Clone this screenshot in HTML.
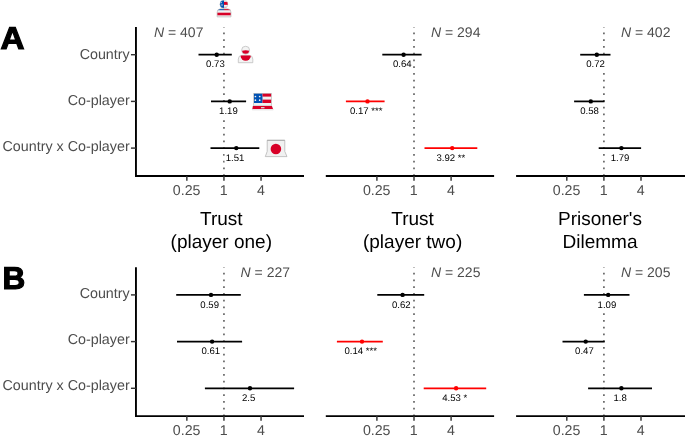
<!DOCTYPE html><html><head><meta charset="utf-8"><title>Figure</title><style>html,body{margin:0;padding:0;background:#fff}svg{display:block}text{font-family:"Liberation Sans",Arial,sans-serif;text-rendering:geometricPrecision}</style></head><body>
<svg width="685" height="436" viewBox="0 0 685 436">
<rect width="685" height="436" fill="#fff"/>
<line x1="223.95" y1="27.0" x2="223.95" y2="176.04999999999998" stroke="#666" stroke-width="1.7" stroke-dasharray="1.7 5.05" stroke-dashoffset="1.2"/>
<line x1="135.0" y1="176.04999999999998" x2="304" y2="176.04999999999998" stroke="#000" stroke-width="1.9"/>
<line x1="135.95" y1="27.0" x2="135.95" y2="176.04999999999998" stroke="#000" stroke-width="1.9"/>
<line x1="130.95" y1="54.70" x2="135.95" y2="54.70" stroke="#333" stroke-width="1.45"/>
<text x="129.7" y="59.1" font-size="14.3" fill="#4d4d4d" text-anchor="end">Country</text>
<line x1="130.95" y1="101.40" x2="135.95" y2="101.40" stroke="#333" stroke-width="1.45"/>
<text x="129.7" y="105.1" font-size="14.3" fill="#4d4d4d" text-anchor="end">Co-player</text>
<line x1="130.95" y1="148.10" x2="135.95" y2="148.10" stroke="#333" stroke-width="1.45"/>
<text x="129.7" y="151.0" font-size="14.3" fill="#4d4d4d" text-anchor="end">Country x Co-player</text>
<line x1="186.85" y1="176.04999999999998" x2="186.85" y2="180.64999999999998" stroke="#333" stroke-width="1.45"/>
<text x="186.65" y="194.70" font-size="14.2" fill="#4d4d4d" text-anchor="middle">0.25</text>
<line x1="223.95" y1="176.04999999999998" x2="223.95" y2="180.64999999999998" stroke="#333" stroke-width="1.45"/>
<text x="223.75" y="194.70" font-size="14.2" fill="#4d4d4d" text-anchor="middle">1</text>
<line x1="261.05" y1="176.04999999999998" x2="261.05" y2="180.64999999999998" stroke="#333" stroke-width="1.45"/>
<text x="260.85" y="194.70" font-size="14.2" fill="#4d4d4d" text-anchor="middle">4</text>
<text x="154.0" y="36.60" font-size="14" fill="#4d4d4d"><tspan font-style="italic">N</tspan> = 407</text>
<line x1="198.5" y1="54.70" x2="231.8" y2="54.70" stroke="#000" stroke-width="1.75"/>
<circle cx="216.7" cy="54.70" r="2.2" fill="#000"/>
<rect x="205.06" y="59.00" width="20.68" height="10.2" fill="#fff"/>
<text x="215.40" y="67.30" font-size="9.6" fill="#000" text-anchor="middle">0.73</text>
<line x1="211" y1="101.40" x2="246.1" y2="101.40" stroke="#000" stroke-width="1.75"/>
<circle cx="229.7" cy="101.40" r="2.2" fill="#000"/>
<rect x="218.06" y="105.70" width="20.68" height="10.2" fill="#fff"/>
<text x="228.40" y="114.00" font-size="9.6" fill="#000" text-anchor="middle">1.19</text>
<line x1="210.5" y1="148.10" x2="259.3" y2="148.10" stroke="#000" stroke-width="1.75"/>
<circle cx="236.3" cy="148.10" r="2.2" fill="#000"/>
<rect x="224.66" y="152.40" width="20.68" height="10.2" fill="#fff"/>
<text x="235.00" y="160.70" font-size="9.6" fill="#000" text-anchor="middle">1.51</text>
<line x1="414.0" y1="27.0" x2="414.0" y2="176.04999999999998" stroke="#666" stroke-width="1.7" stroke-dasharray="1.7 5.05" stroke-dashoffset="1.2"/>
<line x1="325.8" y1="176.04999999999998" x2="494.1" y2="176.04999999999998" stroke="#000" stroke-width="1.9"/>
<line x1="376.90" y1="176.04999999999998" x2="376.90" y2="180.64999999999998" stroke="#333" stroke-width="1.45"/>
<text x="376.70" y="194.70" font-size="14.2" fill="#4d4d4d" text-anchor="middle">0.25</text>
<line x1="414.00" y1="176.04999999999998" x2="414.00" y2="180.64999999999998" stroke="#333" stroke-width="1.45"/>
<text x="413.80" y="194.70" font-size="14.2" fill="#4d4d4d" text-anchor="middle">1</text>
<line x1="451.10" y1="176.04999999999998" x2="451.10" y2="180.64999999999998" stroke="#333" stroke-width="1.45"/>
<text x="450.90" y="194.70" font-size="14.2" fill="#4d4d4d" text-anchor="middle">4</text>
<text x="431.0" y="36.60" font-size="14" fill="#4d4d4d"><tspan font-style="italic">N</tspan> = 294</text>
<line x1="382.3" y1="54.70" x2="421.6" y2="54.70" stroke="#000" stroke-width="1.75"/>
<circle cx="403.6" cy="54.70" r="2.2" fill="#000"/>
<rect x="391.96" y="59.00" width="20.68" height="10.2" fill="#fff"/>
<text x="402.30" y="67.30" font-size="9.6" fill="#000" text-anchor="middle">0.64</text>
<line x1="345.9" y1="101.40" x2="384.6" y2="101.40" stroke="#f00" stroke-width="1.75"/>
<circle cx="367.5" cy="101.40" r="2.2" fill="#f00"/>
<rect x="348.92" y="105.70" width="34.56" height="10.2" fill="#fff"/>
<text x="366.20" y="114.00" font-size="9.6" fill="#000" text-anchor="middle">0.17 ***</text>
<line x1="424.5" y1="148.10" x2="477.3" y2="148.10" stroke="#f00" stroke-width="1.75"/>
<circle cx="452.2" cy="148.10" r="2.2" fill="#f00"/>
<rect x="435.49" y="152.40" width="30.82" height="10.2" fill="#fff"/>
<text x="450.90" y="160.70" font-size="9.6" fill="#000" text-anchor="middle">3.92 **</text>
<line x1="603.9" y1="27.0" x2="603.9" y2="176.04999999999998" stroke="#666" stroke-width="1.7" stroke-dasharray="1.7 5.05" stroke-dashoffset="1.2"/>
<line x1="516.1" y1="176.04999999999998" x2="686" y2="176.04999999999998" stroke="#000" stroke-width="1.9"/>
<line x1="566.80" y1="176.04999999999998" x2="566.80" y2="180.64999999999998" stroke="#333" stroke-width="1.45"/>
<text x="566.60" y="194.70" font-size="14.2" fill="#4d4d4d" text-anchor="middle">0.25</text>
<line x1="603.90" y1="176.04999999999998" x2="603.90" y2="180.64999999999998" stroke="#333" stroke-width="1.45"/>
<text x="603.70" y="194.70" font-size="14.2" fill="#4d4d4d" text-anchor="middle">1</text>
<line x1="641.00" y1="176.04999999999998" x2="641.00" y2="180.64999999999998" stroke="#333" stroke-width="1.45"/>
<text x="640.80" y="194.70" font-size="14.2" fill="#4d4d4d" text-anchor="middle">4</text>
<text x="621.0" y="36.60" font-size="14" fill="#4d4d4d"><tspan font-style="italic">N</tspan> = 402</text>
<line x1="580.2" y1="54.70" x2="610.5" y2="54.70" stroke="#000" stroke-width="1.75"/>
<circle cx="596.8" cy="54.70" r="2.2" fill="#000"/>
<rect x="585.16" y="59.00" width="20.68" height="10.2" fill="#fff"/>
<text x="595.50" y="67.30" font-size="9.6" fill="#000" text-anchor="middle">0.72</text>
<line x1="574.1" y1="101.40" x2="604.5" y2="101.40" stroke="#000" stroke-width="1.75"/>
<circle cx="590.8" cy="101.40" r="2.2" fill="#000"/>
<rect x="579.16" y="105.70" width="20.68" height="10.2" fill="#fff"/>
<text x="589.50" y="114.00" font-size="9.6" fill="#000" text-anchor="middle">0.58</text>
<line x1="598.7" y1="148.10" x2="641.1" y2="148.10" stroke="#000" stroke-width="1.75"/>
<circle cx="621.4" cy="148.10" r="2.2" fill="#000"/>
<rect x="609.76" y="152.40" width="20.68" height="10.2" fill="#fff"/>
<text x="620.10" y="160.70" font-size="9.6" fill="#000" text-anchor="middle">1.79</text>
<line x1="223.95" y1="267.2" x2="223.95" y2="416.1" stroke="#666" stroke-width="1.7" stroke-dasharray="1.7 5.05" stroke-dashoffset="1.2"/>
<line x1="135.0" y1="416.1" x2="304" y2="416.1" stroke="#000" stroke-width="1.9"/>
<line x1="135.95" y1="267.2" x2="135.95" y2="416.1" stroke="#000" stroke-width="1.9"/>
<line x1="130.95" y1="294.90" x2="135.95" y2="294.90" stroke="#333" stroke-width="1.45"/>
<text x="129.7" y="298.1" font-size="14.3" fill="#4d4d4d" text-anchor="end">Country</text>
<line x1="130.95" y1="341.60" x2="135.95" y2="341.60" stroke="#333" stroke-width="1.45"/>
<text x="129.7" y="344.0" font-size="14.3" fill="#4d4d4d" text-anchor="end">Co-player</text>
<line x1="130.95" y1="388.30" x2="135.95" y2="388.30" stroke="#333" stroke-width="1.45"/>
<text x="129.7" y="389.9" font-size="14.3" fill="#4d4d4d" text-anchor="end">Country x Co-player</text>
<line x1="186.85" y1="416.1" x2="186.85" y2="420.70000000000005" stroke="#333" stroke-width="1.45"/>
<text x="186.65" y="434.75" font-size="14.2" fill="#4d4d4d" text-anchor="middle">0.25</text>
<line x1="223.95" y1="416.1" x2="223.95" y2="420.70000000000005" stroke="#333" stroke-width="1.45"/>
<text x="223.75" y="434.75" font-size="14.2" fill="#4d4d4d" text-anchor="middle">1</text>
<line x1="261.05" y1="416.1" x2="261.05" y2="420.70000000000005" stroke="#333" stroke-width="1.45"/>
<text x="260.85" y="434.75" font-size="14.2" fill="#4d4d4d" text-anchor="middle">4</text>
<text x="240.6" y="276.80" font-size="14" fill="#4d4d4d"><tspan font-style="italic">N</tspan> = 227</text>
<line x1="176.2" y1="294.90" x2="240.8" y2="294.90" stroke="#000" stroke-width="1.75"/>
<circle cx="211" cy="294.90" r="2.2" fill="#000"/>
<rect x="199.36" y="299.20" width="20.68" height="10.2" fill="#fff"/>
<text x="209.70" y="307.50" font-size="9.6" fill="#000" text-anchor="middle">0.59</text>
<line x1="177" y1="341.60" x2="242.1" y2="341.60" stroke="#000" stroke-width="1.75"/>
<circle cx="212.1" cy="341.60" r="2.2" fill="#000"/>
<rect x="200.46" y="345.90" width="20.68" height="10.2" fill="#fff"/>
<text x="210.80" y="354.20" font-size="9.6" fill="#000" text-anchor="middle">0.61</text>
<line x1="204.9" y1="388.30" x2="294.1" y2="388.30" stroke="#000" stroke-width="1.75"/>
<circle cx="250" cy="388.30" r="2.2" fill="#000"/>
<rect x="241.03" y="392.60" width="15.34" height="10.2" fill="#fff"/>
<text x="248.70" y="400.90" font-size="9.6" fill="#000" text-anchor="middle">2.5</text>
<line x1="414.0" y1="267.2" x2="414.0" y2="416.1" stroke="#666" stroke-width="1.7" stroke-dasharray="1.7 5.05" stroke-dashoffset="1.2"/>
<line x1="325.8" y1="416.1" x2="494.1" y2="416.1" stroke="#000" stroke-width="1.9"/>
<line x1="376.90" y1="416.1" x2="376.90" y2="420.70000000000005" stroke="#333" stroke-width="1.45"/>
<text x="376.70" y="434.75" font-size="14.2" fill="#4d4d4d" text-anchor="middle">0.25</text>
<line x1="414.00" y1="416.1" x2="414.00" y2="420.70000000000005" stroke="#333" stroke-width="1.45"/>
<text x="413.80" y="434.75" font-size="14.2" fill="#4d4d4d" text-anchor="middle">1</text>
<line x1="451.10" y1="416.1" x2="451.10" y2="420.70000000000005" stroke="#333" stroke-width="1.45"/>
<text x="450.90" y="434.75" font-size="14.2" fill="#4d4d4d" text-anchor="middle">4</text>
<text x="431.0" y="276.80" font-size="14" fill="#4d4d4d"><tspan font-style="italic">N</tspan> = 225</text>
<line x1="377.3" y1="294.90" x2="424.2" y2="294.90" stroke="#000" stroke-width="1.75"/>
<circle cx="402.6" cy="294.90" r="2.2" fill="#000"/>
<rect x="390.96" y="299.20" width="20.68" height="10.2" fill="#fff"/>
<text x="401.30" y="307.50" font-size="9.6" fill="#000" text-anchor="middle">0.62</text>
<line x1="336.9" y1="341.60" x2="382.8" y2="341.60" stroke="#f00" stroke-width="1.75"/>
<circle cx="362" cy="341.60" r="2.2" fill="#f00"/>
<rect x="343.42" y="345.90" width="34.56" height="10.2" fill="#fff"/>
<text x="360.70" y="354.20" font-size="9.6" fill="#000" text-anchor="middle">0.14 ***</text>
<line x1="423.7" y1="388.30" x2="486.2" y2="388.30" stroke="#f00" stroke-width="1.75"/>
<circle cx="456.1" cy="388.30" r="2.2" fill="#f00"/>
<rect x="441.26" y="392.60" width="27.09" height="10.2" fill="#fff"/>
<text x="454.80" y="400.90" font-size="9.6" fill="#000" text-anchor="middle">4.53 *</text>
<line x1="603.9" y1="267.2" x2="603.9" y2="416.1" stroke="#666" stroke-width="1.7" stroke-dasharray="1.7 5.05" stroke-dashoffset="1.2"/>
<line x1="516.1" y1="416.1" x2="686" y2="416.1" stroke="#000" stroke-width="1.9"/>
<line x1="566.80" y1="416.1" x2="566.80" y2="420.70000000000005" stroke="#333" stroke-width="1.45"/>
<text x="566.60" y="434.75" font-size="14.2" fill="#4d4d4d" text-anchor="middle">0.25</text>
<line x1="603.90" y1="416.1" x2="603.90" y2="420.70000000000005" stroke="#333" stroke-width="1.45"/>
<text x="603.70" y="434.75" font-size="14.2" fill="#4d4d4d" text-anchor="middle">1</text>
<line x1="641.00" y1="416.1" x2="641.00" y2="420.70000000000005" stroke="#333" stroke-width="1.45"/>
<text x="640.80" y="434.75" font-size="14.2" fill="#4d4d4d" text-anchor="middle">4</text>
<text x="621.0" y="276.80" font-size="14" fill="#4d4d4d"><tspan font-style="italic">N</tspan> = 205</text>
<line x1="583.9" y1="294.90" x2="629.5" y2="294.90" stroke="#000" stroke-width="1.75"/>
<circle cx="608.2" cy="294.90" r="2.2" fill="#000"/>
<rect x="596.56" y="299.20" width="20.68" height="10.2" fill="#fff"/>
<text x="606.90" y="307.50" font-size="9.6" fill="#000" text-anchor="middle">1.09</text>
<line x1="562.5" y1="341.60" x2="604.7" y2="341.60" stroke="#000" stroke-width="1.75"/>
<circle cx="585.7" cy="341.60" r="2.2" fill="#000"/>
<rect x="574.06" y="345.90" width="20.68" height="10.2" fill="#fff"/>
<text x="584.40" y="354.20" font-size="9.6" fill="#000" text-anchor="middle">0.47</text>
<line x1="588.1" y1="388.30" x2="652" y2="388.30" stroke="#000" stroke-width="1.75"/>
<circle cx="621.4" cy="388.30" r="2.2" fill="#000"/>
<rect x="612.43" y="392.60" width="15.34" height="10.2" fill="#fff"/>
<text x="620.10" y="400.90" font-size="9.6" fill="#000" text-anchor="middle">1.8</text>
<text x="221.3" y="225.2" font-size="19" fill="#000" text-anchor="middle">Trust</text>
<text x="221.3" y="247.9" font-size="19" fill="#000" text-anchor="middle">(player one)</text>
<text x="412.6" y="225.2" font-size="19" fill="#000" text-anchor="middle">Trust</text>
<text x="412.6" y="247.9" font-size="19" fill="#000" text-anchor="middle">(player two)</text>
<text x="600.0" y="225.2" font-size="19" fill="#000" text-anchor="middle">Prisoner's</text>
<text x="600.0" y="247.9" font-size="19" fill="#000" text-anchor="middle">Dilemma</text>
<text x="0" y="49.1" transform="translate(0.55 0) scale(1.053 1)" font-size="31.5" font-weight="bold" fill="#000" stroke="#000" stroke-width="1.2" stroke-linejoin="miter">A</text>
<text x="2.4" y="289.3" font-size="31.5" font-weight="bold" fill="#000" stroke="#000" stroke-width="1.2" stroke-linejoin="miter">B</text>
<g>
<defs><clipPath id="ush"><circle cx="223.9" cy="4.2" r="4"/></clipPath><clipPath id="usb"><path d="M217.1 16.9V12.3a3.5 3.5 0 0 1 3.5-3.5h6.9a3.5 3.5 0 0 1 3.5 3.5V16.9z"/></clipPath></defs>
<g clip-path="url(#ush)"><rect x="219" y="0" width="10" height="9" fill="#f0f0f0"/><rect x="219" y="0" width="5" height="9" fill="#0052b4"/><rect x="224" y="1.85" width="5" height="3.0" fill="#d80027"/><rect x="224" y="6.6" width="5" height="2" fill="#f3b6c0"/><circle cx="221.2" cy="2.6" r="0.55" fill="#f0f0f0"/><circle cx="222" cy="5" r="0.65" fill="#f0f0f0"/></g>
<circle cx="223.9" cy="4.2" r="4" fill="none" stroke="#bcbcbc" stroke-width="0.4"/>
<g clip-path="url(#usb)"><rect x="217" y="8.8" width="14" height="8.2" fill="#f0f0f0"/><rect x="217" y="8.8" width="7" height="1.4" fill="#0052b4"/><rect x="224" y="8.8" width="7" height="1.4" fill="#d80027"/><rect x="217" y="12.7" width="14" height="2.6" fill="#d80027"/></g>
<path d="M217.1 16.9V12.3a3.5 3.5 0 0 1 3.5-3.5h6.9a3.5 3.5 0 0 1 3.5 3.5V16.9z" fill="none" stroke="#bcbcbc" stroke-width="0.7"/>
</g>
<g>
<defs><clipPath id="jph"><circle cx="245.6" cy="50.25" r="3.5"/></clipPath><clipPath id="jpb"><path d="M238.3 62.7V59.1a3.7 3.7 0 0 1 3.7-3.7h7.1a3.7 3.7 0 0 1 3.7 3.7V62.7z"/></clipPath></defs>
<circle cx="245.6" cy="50.25" r="4.0" fill="#f4f4f4" stroke="#bcbcbc" stroke-width="0.75"/>
<g clip-path="url(#jph)"><path d="M241.5 50.8Q245.6 49.5 249.7 50.8V55H241.5z" fill="#d80027"/></g>
<path d="M238.3 62.7V59.1a3.7 3.7 0 0 1 3.7-3.7h7.1a3.7 3.7 0 0 1 3.7 3.7V62.7z" fill="#f4f4f4" stroke="#bcbcbc" stroke-width="0.75"/>
<g clip-path="url(#jpb)"><circle cx="245.7" cy="55.45" r="5.2" fill="#d80027"/></g>
</g>
<g>
<rect x="253.75" y="93.4" width="17.6" height="12.6" fill="#f0f0f0" stroke="#a6a6a6" stroke-width="0.55"/>
<rect x="254" y="93.7" width="8.5" height="9.3" fill="#0052b4"/>
<rect x="262.5" y="93.7" width="8.6" height="2.9" fill="#d80027"/><rect x="262.5" y="99.6" width="8.6" height="3.4" fill="#d80027"/>
<circle cx="255.4" cy="96.5" r="0.85" fill="#f0f0f0"/>
<circle cx="259.7" cy="96.5" r="0.85" fill="#f0f0f0"/>
<circle cx="255.4" cy="100.2" r="0.85" fill="#f0f0f0"/>
<circle cx="259.7" cy="100.2" r="0.85" fill="#f0f0f0"/>
<path d="M253.2 106H271.7L273.3 110H252.2z" fill="#f0f0f0" stroke="#bcbcbc" stroke-width="0.3"/>
<path d="M252.9 106H271.9L273.0 109.1H252.4z" fill="#d80027"/>
<rect x="261" y="107.1" width="3.5" height="1.2" fill="#ddd"/>
</g>
<g>
<path d="M267.2 140.3H284.8V151.4L287.0 156.6H265.3L267.2 151.4z" fill="#f1f1f1" stroke="#adadad" stroke-width="0.7" stroke-linejoin="round"/>
<line x1="267.2" y1="140.3" x2="284.8" y2="140.3" stroke="#9c9c9c" stroke-width="0.7"/>
<circle cx="275.9" cy="149.05" r="5.3" fill="#d80027"/>
</g>
</svg></body></html>
